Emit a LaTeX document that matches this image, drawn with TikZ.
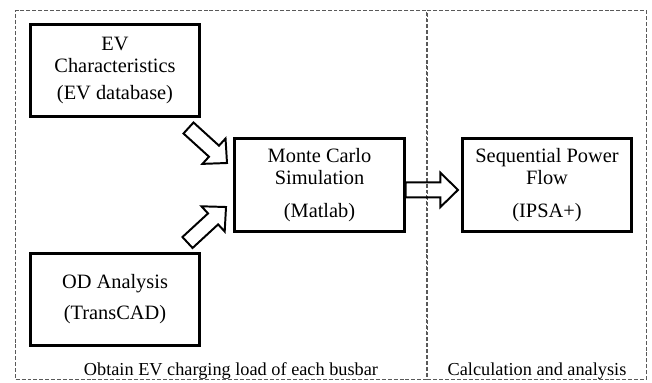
\documentclass[tikz,border=0pt]{standalone}
\usepackage{fontspec}
\setmainfont{Liberation Serif}
\usetikzlibrary{calc}

\begin{document}
\begin{tikzpicture}[x=0.025cm, y=-0.025cm]
\tikzset{box/.style = {draw, line width=2.1pt, minimum width=120.5pt, minimum height=66pt,
  inner sep=0pt, align=center, font=\fontsize{14.5}{16}\selectfont}}
\tikzset{panel/.style = {draw=black!65, line width=0.7pt, dash pattern=on 2.8pt off 1.4pt,
  minimum height=262.2pt, inner sep=0pt}}
\tikzset{caption/.style = {anchor=base, font=\fontsize{13}{15}\selectfont}}
\tikzset{blockarrow/.style = {draw, line width=1.4pt, line join=miter,
  to path={
    ($(\tikztostart)!5.3pt!90:(\tikztotarget)$)
    -- ($(\tikztotarget)!12.5pt!(\tikztostart)!5.3pt!-90:(\tikztostart)$)
    -- ($(\tikztotarget)!12.5pt!(\tikztostart)!12.2pt!-90:(\tikztostart)$)
    -- (\tikztotarget)
    -- ($(\tikztotarget)!12.5pt!(\tikztostart)!12.2pt!90:(\tikztostart)$)
    -- ($(\tikztotarget)!12.5pt!(\tikztostart)!5.3pt!90:(\tikztostart)$)
    -- ($(\tikztostart)!5.3pt!-90:(\tikztotarget)$)
    -- cycle}}}

\useasboundingbox (0,0) rectangle (652,382);

% panels

\node[panel, minimum width=292pt] (obtain) at (221,195) {};
\node[panel, minimum width=155.9pt] (calc) at (537,195) {};

\node[caption] (obtainlabel) at (231,375) {Obtain EV charging load of each busbar};
\node[caption] (calclabel) at (537,375) {Calculation and analysis};

% blocks

\node[box] (ev) at (115,70.5) {EV\\Characteristics\\[3pt](EV database)};
\node[box] (mc) at (319.5,185) {Monte Carlo\\Simulation\\[7pt](Matlab)};
\node[box] (spf) at (547,185) {Sequential Power\\Flow\\[7pt](IPSA+)};
\node[box] (od) at (115,299.5) {OD Analysis\\[6pt](TransCAD)};

% block arrows

\coordinate (evtail) at (188.5,128);
\coordinate (evtip) at (227,163);
\coordinate (odtail) at (187.5,242.5);
\coordinate (odtip) at (226,207);
\coordinate (mctail) at ([yshift=-3.5pt]mc.east);
\coordinate (spftip) at ([xshift=-2pt,yshift=-3.5pt]spf.west);

\draw[blockarrow] (evtail) to (evtip);
\draw[blockarrow] (odtail) to (odtip);
\draw[blockarrow] (mctail) to (spftip);
\end{tikzpicture}
\end{document}
